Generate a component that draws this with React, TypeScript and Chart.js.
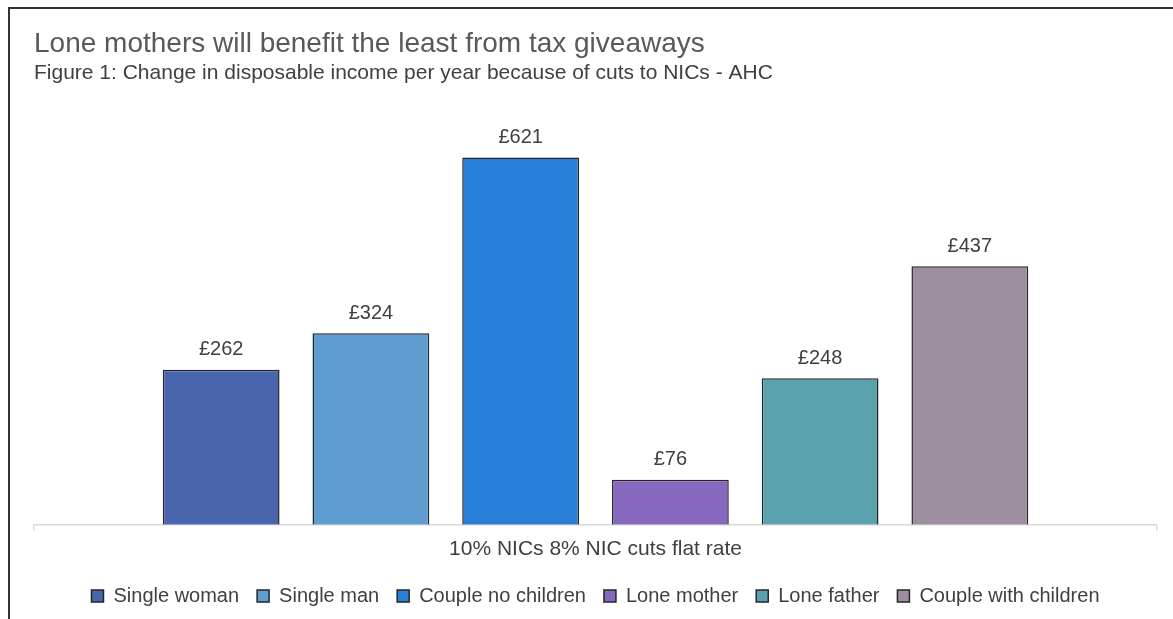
import React, { useEffect, useRef } from "react";
import { Chart, registerables } from "chart.js";

Chart.register(...registerables);

const categories = ["10% NICs 8% NIC cuts flat rate"];
const seriesNames = [
  "Single woman",
  "Single man",
  "Couple no children",
  "Lone mother",
  "Lone father",
  "Couple with children",
];
const seriesValues = [262, 324, 621, 76, 248, 437];
const seriesColors = ["#4965ad", "#5f9dd1", "#2a7fd8", "#8669bf", "#5aa3ae", "#9d8f9f"];

const titleText = "Lone mothers will benefit the least from tax giveaways";
const subtitleText = "Figure 1: Change in disposable income per year because of cuts to NICs - AHC";

const FONT = "'Liberation Sans', Arial, Helvetica, sans-serif";

const valueLabels = {
  id: "valueLabels",
  afterDatasetsDraw(chart: any) {
    const ctx = chart.ctx;
    ctx.save();
    ctx.font = `20px ${FONT}`;
    ctx.fillStyle = "#404040";
    ctx.textAlign = "center";
    ctx.textBaseline = "middle";
    chart.data.datasets.forEach((ds: any, i: number) => {
      const meta = chart.getDatasetMeta(i);
      meta.data.forEach((bar: any, j: number) => {
        ctx.fillText("£" + ds.data[j], bar.x, bar.y - 20);
      });
    });
    ctx.restore();
  },
};

export default function App() {
  const ref = useRef<HTMLCanvasElement | null>(null);

  useEffect(() => {
    document.body.style.margin = "0";
    const canvas = ref.current;
    if (!canvas) return;
    const chart = new Chart(canvas, {
      type: "bar",
      data: {
        labels: categories,
        datasets: seriesNames.map((name, i) => ({
          label: name,
          data: [seriesValues[i]],
          backgroundColor: seriesColors[i],
          borderColor: "#262626",
          borderWidth: 1.5,
          categoryPercentage: 0.8,
          barPercentage: 0.78,
        })),
      },
      options: {
        animation: false,
        responsive: false,
        maintainAspectRatio: false,
        layout: { padding: { left: 34, right: 16, top: 0, bottom: 3 } },
        plugins: {
          title: {
            display: true,
            text: titleText,
            align: "start",
            color: "#595959",
            font: { family: FONT, size: 28, weight: "normal", lineHeight: 1.2 },
            padding: { top: 27, bottom: 0 },
          },
          subtitle: {
            display: true,
            text: subtitleText,
            align: "start",
            color: "#404040",
            font: { family: FONT, size: 21, weight: "normal", lineHeight: 1.2 },
            padding: { top: 0, bottom: 25 },
          },
          legend: {
            position: "bottom",
            labels: {
              color: "#404040",
              font: { family: FONT, size: 20 },
              boxWidth: 12,
              boxHeight: 12,
              padding: 18,
            },
          },
          tooltip: { enabled: false },
        },
        scales: {
          x: {
            grid: {
              display: true,
              drawOnChartArea: false,
              color: "#d9d9d9",
              tickLength: 6,
              lineWidth: 1.5,
            },
            border: { display: true, color: "#d9d9d9", width: 1.5 },
            ticks: {
              color: "#404040",
              font: { family: FONT, size: 21 },
              padding: 6,
            },
          },
          y: {
            display: false,
            min: 0,
            max: 700,
          },
        },
      },
      plugins: [valueLabels],
    });
    return () => chart.destroy();
  }, []);

  return (
    <div style={{ position: "relative", width: 1173, height: 619, background: "#fff", overflow: "hidden" }}>
      <canvas ref={ref} width={1173} height={619} style={{ position: "absolute", left: 0, top: 0 }} />
      <div style={{ position: "absolute", left: 8, top: 7, width: 2, height: 612, background: "#333" }} />
      <div style={{ position: "absolute", left: 8, top: 7, width: 1165, height: 2, background: "#333" }} />
    </div>
  );
}
